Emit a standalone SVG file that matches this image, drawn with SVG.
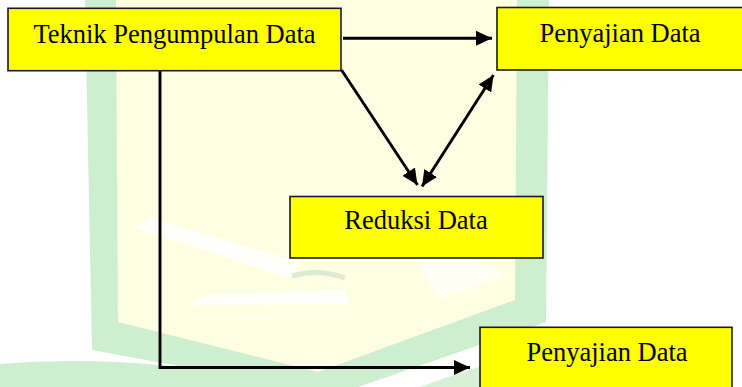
<svg xmlns="http://www.w3.org/2000/svg" width="742" height="387" viewBox="0 0 742 387">
  <style>
    .box { fill: #ffff00; stroke: #1a1a1a; stroke-width: 1.6; }
    .label { font-family: "Liberation Serif", "Times New Roman", serif; font-size: 26.5px; fill: #000; text-anchor: middle; }
    .conn { fill: none; stroke: #000; stroke-width: 2.9; }
  </style>
  <defs>
    <marker id="arrow" markerUnits="userSpaceOnUse" markerWidth="17" markerHeight="16" refX="16" refY="7.5" orient="auto-start-reverse" viewBox="0 0 17 16">
      <path d="M0,0 L16,7.5 L0,15 z" fill="#000"/>
    </marker>
  </defs>
  <rect x="0" y="0" width="742" height="387" fill="#ffffff"/>
  <g id="watermark">
    <path d="M85,0 L549,0 L546,322 L335,395 L92,350 Z" fill="#cdeecf"/>
    <path d="M116,0 L517,0 L515,300 L318,372 L118,322 Z" fill="#fefee2"/>
    <path d="M135,228 L150,218 L300,262 L290,278 Z" fill="#ffffff" opacity="0.9"/>
    <path d="M190,305 L205,295 L345,290 L350,304 Z" fill="#ffffff" opacity="0.9"/>
    <path d="M415,258 L470,255 L505,275 L440,300 Z" fill="#ffffff" opacity="0.6"/>
    <path d="M292,276 Q318,268 345,278" fill="none" stroke="#cfe3cf" stroke-width="5" opacity="0.7"/>
    <path d="M0,364 Q140,352 300,387 L0,387 Z" fill="#cdeecf"/>
    <path d="M420,387 Q520,350 600,340 L620,387 Z" fill="#cdeecf" opacity="0.8"/>
  </g>
  <g id="connectors">
    <line class="conn" x1="343" y1="38.3" x2="492" y2="38.3" marker-end="url(#arrow)"/>
    <line class="conn" x1="341.5" y1="70" x2="417.5" y2="185" marker-end="url(#arrow)"/>
    <line class="conn" x1="422" y1="186.5" x2="493.5" y2="75" marker-start="url(#arrow)" marker-end="url(#arrow)"/>
    <path class="conn" d="M160,71 V367.5 H470" marker-end="url(#arrow)"/>
  </g>
  <g id="node-teknik">
    <rect class="box" x="8" y="8.3" width="333" height="62.4"/>
    <text class="label" x="174.5" y="43">Teknik Pengumpulan Data</text>
  </g>
  <g id="node-penyajian-1">
    <rect class="box" x="497" y="7.5" width="250" height="62.5"/>
    <text class="label" x="620" y="41.7">Penyajian Data</text>
  </g>
  <g id="node-reduksi">
    <rect class="box" x="290" y="196.5" width="253" height="61.5"/>
    <text class="label" x="416" y="229">Reduksi Data</text>
  </g>
  <g id="node-penyajian-2">
    <rect class="box" x="480" y="327.3" width="252" height="70"/>
    <text class="label" x="607" y="360.7">Penyajian Data</text>
  </g>
</svg>
